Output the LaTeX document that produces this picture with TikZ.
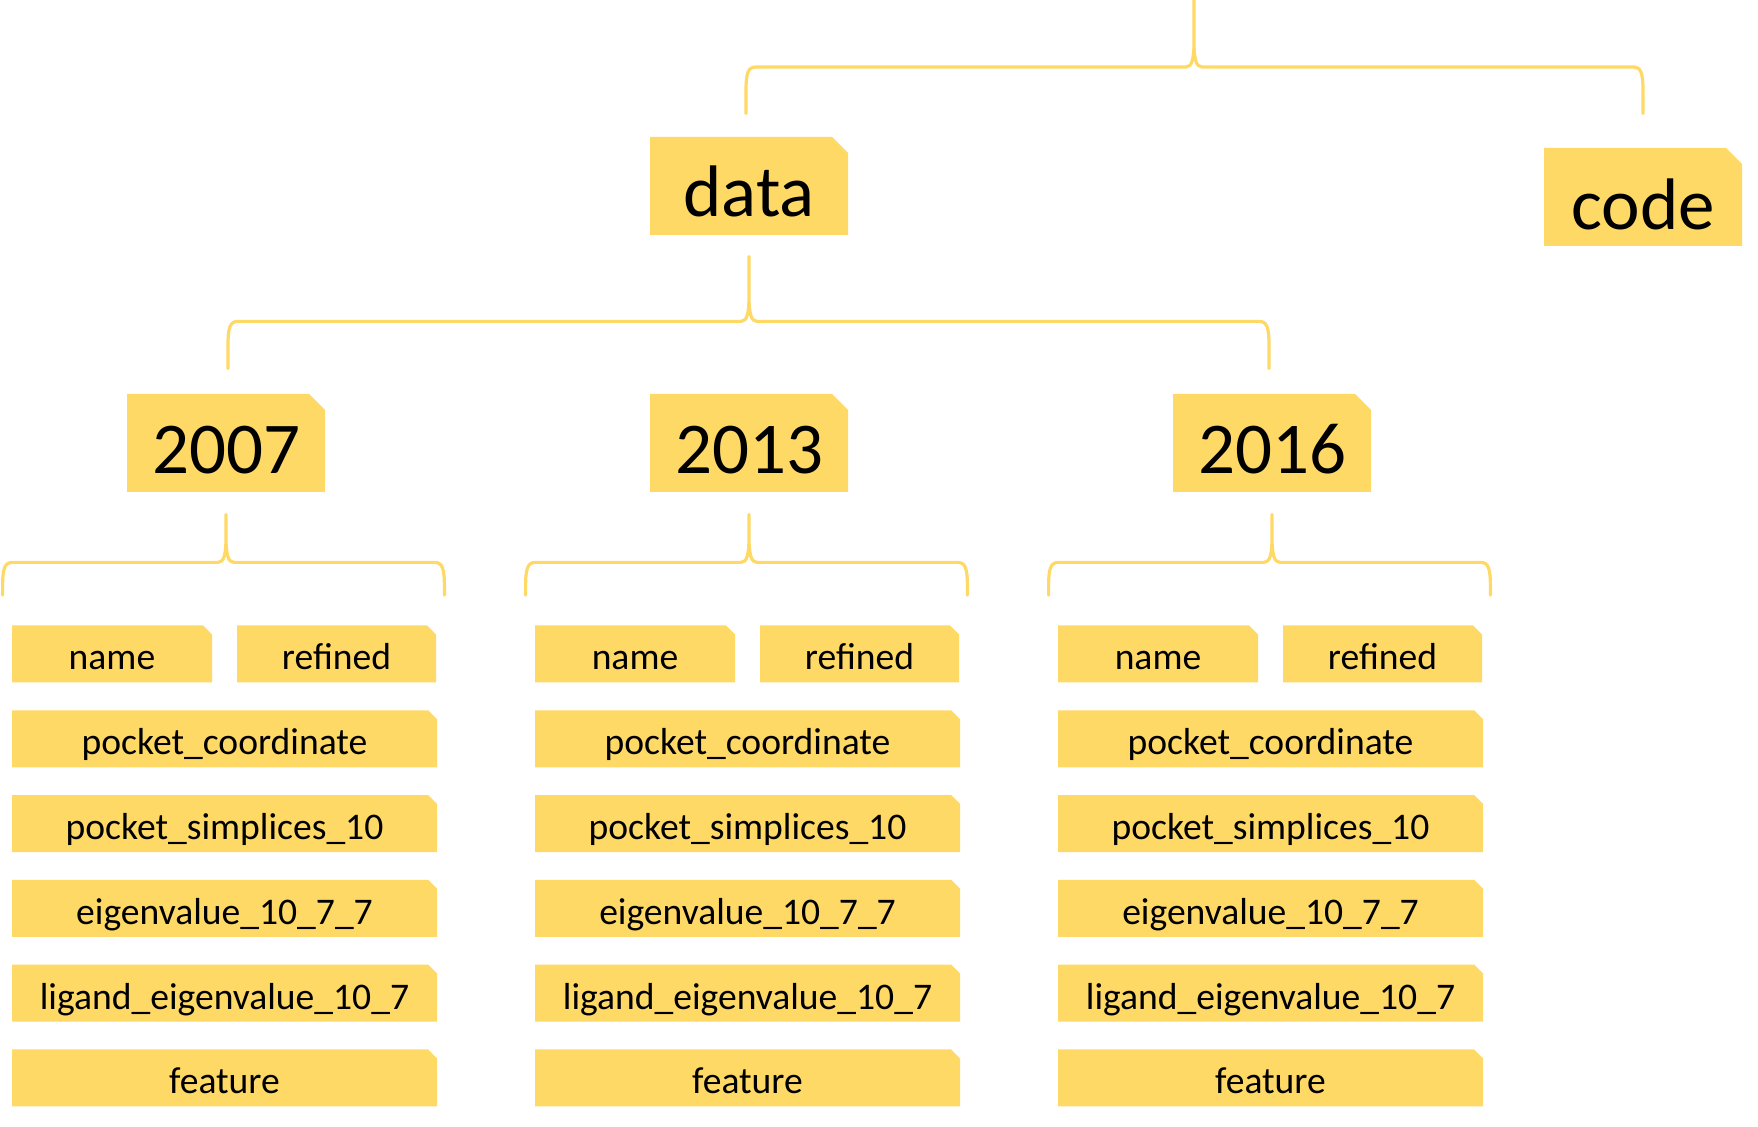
\documentclass[tikz,border=0pt]{standalone}
\usepackage{fontspec}
\setmainfont{Carlito}
\usetikzlibrary{calc,shapes.misc}
\definecolor{foldergold}{HTML}{FFD966}
\tikzset{
	folder/.style={
			shape=chamfered rectangle, chamfered rectangle corners=north east,
			fill=foldergold, draw=none, inner sep=0pt, text depth=0pt
		},
	bigfolder/.style={
			folder, minimum width=99pt, minimum height=49pt,
			chamfered rectangle xsep=4pt, chamfered rectangle ysep=4pt,
			font=\fontsize{36.5}{40}\selectfont, text height=31pt
		},
	smallfolder/.style={
			folder, minimum height=28.5pt,
			chamfered rectangle xsep=2.2pt, chamfered rectangle ysep=2.2pt,
			font=\fontsize{18.8}{22}\selectfont, text height=16pt
		},
	brace/.style={foldergold, line width=1.6pt, line cap=round}
}
% #1 stem top, #2 left tip, #3 right tip, #4 bar level
\newcommand{\treebrace}[4]{%
	\draw[brace] let \p1=(#1), \p2=(#2), \p3=(#3), \p4=(#4) in
		(\p1) -- (\x1,{\y4+13pt}) .. controls (\x1,{\y4+4pt}) and ({\x1-1pt},\y4) .. ({\x1-4pt},\y4)
		-- ({\x2+5pt},\y4) .. controls ({\x2+1pt},\y4) and (\x2,{\y4-3pt}) .. (\x2,{\y4-12pt}) -- (\p2)
		(\x1,{\y4+13pt}) .. controls (\x1,{\y4+4pt}) and ({\x1+1pt},\y4) .. ({\x1+4pt},\y4)
		-- ({\x3-5pt},\y4) .. controls ({\x3-1pt},\y4) and (\x3,{\y4-3pt}) .. (\x3,{\y4-12pt}) -- (\p3);
}

\begin{document}
\begin{tikzpicture}[x=0.5pt,y=-0.5pt]
	\useasboundingbox (0,0) rectangle (1758,1127);

	% Top level folders
	\coordinate (root) at (1194,0);
	\node[bigfolder] (data) at (749,186) {data};
	\node[bigfolder, text height=33pt] (code) at (1643,197) {code};

	% Brace over data and code
	\path (data.north) ++(-3,-23) coordinate (tl);
	\path (code.north) ++(0,-34) coordinate (tr);
	\path (root) ++(0,67) coordinate (tm);
	\treebrace{root}{tl}{tr}{tm}

	% Year folders with their contents
	\foreach \yr [count=\k from 0] in {2007,2013,2016} {
		\node[bigfolder] (y\yr) at ({226+523*\k},443) {\yr};
		\node[smallfolder, minimum width=100pt] (name\yr) at ({112+523*\k},654) {name};
		\node[smallfolder, minimum width=99.5pt] (ref\yr) at ({336.5+523*\k},654) {refined};
		\foreach \fld [count=\r] in {pocket\_coordinate, pocket\_simplices\_10,
				eigenvalue\_10\_7\_7, ligand\_eigenvalue\_10\_7, feature} {
			\node[smallfolder, minimum width=212.5pt] (f\yr-\r) at ({224.5+523*\k},{654+84.8*\r}) {\fld};
		}

		% Brace under the year
		\path (y\yr.south) ++(0,22) coordinate (s\yr) ++(0,48) coordinate (m\yr);
		\path (f\yr-1.west |- name\yr.north) ++(-9,-30) coordinate (l\yr);
		\path (f\yr-1.east |- ref\yr.north) ++(7,-30) coordinate (r\yr);
		\treebrace{s\yr}{l\yr}{r\yr}{m\yr}
	}

	% Brace under data
	\path (data.south) ++(0,21) coordinate (ds) ++(0,65) coordinate (dm);
	\path (y2007.north) ++(2,-25) coordinate (dl);
	\path (y2016.north) ++(-3,-25) coordinate (dr);
	\treebrace{ds}{dl}{dr}{dm}

\end{tikzpicture}
\end{document}
